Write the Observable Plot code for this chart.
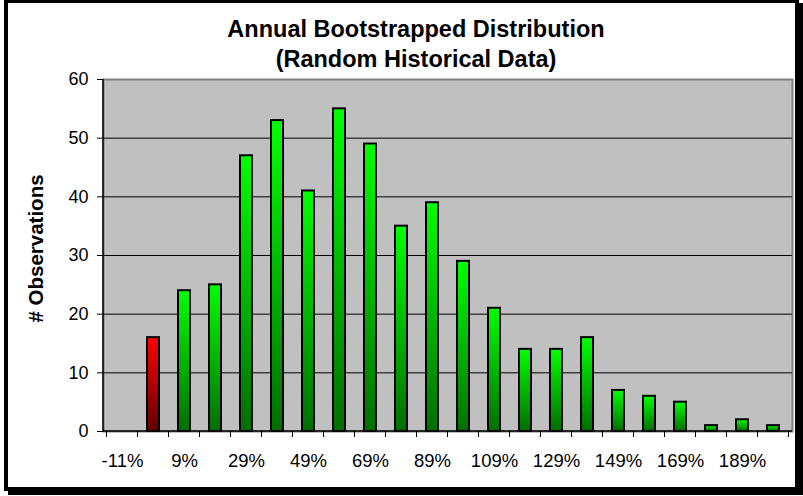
<!DOCTYPE html>
<html><head><meta charset="utf-8">
<script src="https://cdn.jsdelivr.net/npm/d3@7"></script>
<script src="https://cdn.jsdelivr.net/npm/@observablehq/plot@0.6"></script>
<style>
html,body{margin:0;padding:0;background:#fff;}
#wrap{position:relative;width:803px;height:496px;overflow:hidden;background:#fff;}
#border{position:absolute;left:4px;top:-1px;width:787px;height:484px;border:4px solid #000;box-shadow:4px 4px 0 #000;pointer-events:none;}
</style></head><body>
<div id="wrap"><div id="chart"></div><div id="border"></div></div>
<script>
const categories = ["-11%","-1%","9%","19%","29%","39%","49%","59%","69%","79%","89%","99%","109%","119%","129%","139%","149%","159%","169%","179%","189%","199%"];
const counts = [0,16,24,25,47,53,41,55,49,35,39,29,21,14,14,16,7,6,5,1,2,1];
const yTicks = [0,10,20,30,40,50,60];
const xLabelTicks = ["-11%","9%","29%","49%","69%","89%","109%","129%","149%","169%","189%"];
const titleLines = ["Annual Bootstrapped Distribution","(Random Historical Data)"];
const yLabel = "# Observations";

const data = categories.map((c, i) => ({cat: c, n: counts[i], neg: parseFloat(c) < 0}));

const defs = () => {
  const d = d3.create("svg:defs");
  const mk = (id, top, bottom) => {
    const g = d.append("linearGradient").attr("id", id).attr("x1", 0).attr("y1", 0).attr("x2", 0).attr("y2", 1);
    g.append("stop").attr("offset", "0%").attr("stop-color", top);
    g.append("stop").attr("offset", "100%").attr("stop-color", bottom);
  };
  mk("gGreen", "#00ff00", "#006e00");
  mk("gRed", "#ff0000", "#600000");
  return d.node();
};

const axisLines = (index, scales, values, dims) => {
  const {x, y} = scales;
  const g = d3.create("svg:g").attr("fill", "none");
  const x0 = dims.marginLeft, x1 = dims.width - dims.marginRight;
  const yb = y(0), yt = y(yTicks[yTicks.length - 1]);
  const step = x(categories[1]) - x(categories[0]);
  const bw = x.bandwidth ? x.bandwidth() : 0;
  const bounds = categories.map(c => x(c) + bw / 2 - step / 2);
  bounds.push(x(categories[categories.length - 1]) + bw / 2 + step / 2);
  g.selectAll("line.t").data(bounds).join("line")
    .attr("x1", d => d).attr("x2", d => d).attr("y1", yb).attr("y2", yb + 6)
    .attr("stroke", "#000").attr("stroke-width", 1);
  g.append("line").attr("x1", x0).attr("x2", x0).attr("y1", yt).attr("y2", yb + 0.5).attr("stroke", "#000").attr("stroke-width", 1.5);
  g.append("line").attr("x1", x0).attr("x2", x1).attr("y1", yb).attr("y2", yb).attr("stroke", "#000").attr("stroke-width", 1.5);
  return g.node();
};

const chart = Plot.plot({
  width: 803,
  height: 496,
  marginTop: 79,
  marginLeft: 103,
  marginRight: 11,
  marginBottom: 65,
  style: {fontFamily: "'Liberation Sans', Arial, sans-serif", fontSize: "18px", color: "#000", background: "transparent", overflow: "visible"},
  x: {domain: categories, paddingInner: 0.617, paddingOuter: 0.3085, label: null},
  y: {domain: [0, 60], label: null},
  marks: [
    defs,
    Plot.frame({fill: "#c0c0c0", stroke: "#808080", strokeWidth: 2}),
    Plot.ruleY(yTicks.slice(1, -1), {stroke: "#000", strokeWidth: 1}),
    Plot.barY(data.filter(d => d.n > 0 && !d.neg), {x: "cat", y: "n", fill: "url(#gGreen)", stroke: "#000", strokeWidth: 2}),
    Plot.barY(data.filter(d => d.n > 0 && d.neg), {x: "cat", y: "n", fill: "url(#gRed)", stroke: "#000", strokeWidth: 2}),
    axisLines,
    Plot.axisY({ticks: yTicks, tickSize: 6, tickPadding: 9, fontSize: 18, label: null}),
    Plot.axisX({ticks: xLabelTicks, tickSize: 0, tickPadding: 22, fontSize: 18.5, label: null}),
    Plot.text([titleLines[0]], {text: d => d, frameAnchor: "top", textAnchor: "middle", dx: -32, dy: 36 - 79, lineAnchor: "bottom", fontSize: 23.5, fontWeight: "bold"}),
    Plot.text([titleLines[1]], {text: d => d, frameAnchor: "top", textAnchor: "middle", dx: -32, dy: 66 - 79, lineAnchor: "bottom", fontSize: 23.5, fontWeight: "bold"}),
    Plot.text([yLabel], {text: d => d, frameAnchor: "left", textAnchor: "middle", rotate: -90, dx: 36 - 103, dy: 248 - 255, fontSize: 20.5, fontWeight: "bold"})
  ]
});
document.getElementById("chart").appendChild(chart);
</script>
</body></html>
